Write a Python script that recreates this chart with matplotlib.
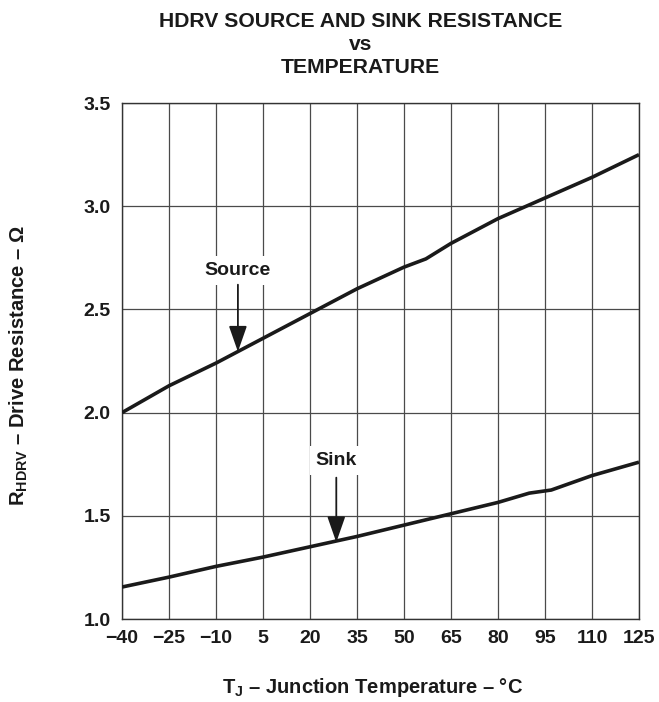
import matplotlib
matplotlib.use("Agg")
import matplotlib.pyplot as plt

plt.rcParams['font.family'] = ['Liberation Sans', 'DejaVu Sans']
plt.rcParams['font.weight'] = 'bold'
plt.rcParams['mathtext.fontset'] = 'custom'
plt.rcParams['mathtext.rm'] = 'Liberation Sans:bold'
plt.rcParams['mathtext.bf'] = 'Liberation Sans:bold'
plt.rcParams['mathtext.it'] = 'Liberation Sans:bold'

# Data
temp = [-40, -25, -10, 5, 20, 35, 50, 57, 65, 80, 95, 110, 125]
source = [2.00, 2.13, 2.24, 2.36, 2.48, 2.60, 2.705, 2.745, 2.82, 2.94, 3.04, 3.14, 3.25]
temp_sink = [-40, -25, -10, 5, 20, 35, 50, 65, 80, 90, 97, 110, 125]
sink = [1.155, 1.203, 1.255, 1.30, 1.35, 1.40, 1.455, 1.51, 1.565, 1.61, 1.625, 1.695, 1.76]

xticks = [-40, -25, -10, 5, 20, 35, 50, 65, 80, 95, 110, 125]
xticklabels = ['\u221240', '\u221225', '\u221210', '5', '20', '35', '50', '65', '80', '95', '110', '125']
yticks = [1.0, 1.5, 2.0, 2.5, 3.0, 3.5]
yticklabels = ['1.0', '1.5', '2.0', '2.5', '3.0', '3.5']

INK = '#1a1a1a'

fig = plt.figure(figsize=(6.59, 7.02), dpi=100)
ax = fig.add_axes([0.1851, 0.1182, 0.7845, 0.735])

ax.plot(temp, source, color=INK, lw=2.6, solid_capstyle='butt', zorder=3)
ax.plot(temp_sink, sink, color=INK, lw=2.6, solid_capstyle='butt', zorder=3)

ax.set_xlim(-40, 125)
ax.set_ylim(1.0, 3.5)
ax.set_xticks(xticks)
ax.set_xticklabels(xticklabels)
ax.set_yticks(yticks)
ax.set_yticklabels(yticklabels)
ax.tick_params(length=0, labelsize=14, pad=8)
for lab in ax.get_xticklabels() + ax.get_yticklabels():
    lab.set_fontweight('bold')
    lab.set_color(INK)
ax.grid(True, color='#4a4a4a', lw=0.9, zorder=1)
for s in ax.spines.values():
    s.set_color('#333333')
    s.set_linewidth(1.0)

bbox = dict(boxstyle='square,pad=0.3', fc='white', ec='none')
ax.text(-3, 2.69, 'Source', ha='center', va='center', fontsize=14,
        fontweight='bold', color=INK, bbox=bbox, zorder=4)
ax.annotate('', xy=(-3, 2.295), xytext=(-3, 2.62),
            arrowprops=dict(arrowstyle='-|>,head_length=0.8,head_width=0.28',
                            color=INK, lw=1.3, mutation_scale=20,
                            shrinkA=0, shrinkB=0), zorder=4)

ax.text(28.4, 1.767, 'Sink', ha='center', va='center', fontsize=14,
        fontweight='bold', color=INK, bbox=bbox, zorder=4)
ax.annotate('', xy=(28.4, 1.372), xytext=(28.4, 1.685),
            arrowprops=dict(arrowstyle='-|>,head_length=0.8,head_width=0.28',
                            color=INK, lw=1.3, mutation_scale=20,
                            shrinkA=0, shrinkB=0), zorder=4)

fig.text(0.547, 1 - 27.3 / 702, 'HDRV SOURCE AND SINK RESISTANCE', ha='center', va='baseline',
         fontsize=15.2, fontweight='bold', color=INK)
fig.text(0.547, 1 - 50.3 / 702, 'vs', ha='center', va='baseline',
         fontsize=15.2, fontweight='bold', color=INK)
fig.text(0.547, 1 - 73.3 / 702, 'TEMPERATURE', ha='center', va='baseline',
         fontsize=15.2, fontweight='bold', color=INK)

fig.text(0.565, 1 - 693 / 702, r'T$_\mathbf{J}$' + ' \u2013 Junction Temperature \u2013 \u00b0C',
         ha='center', va='baseline', fontsize=14.5, fontweight='bold', color=INK)
fig.text(0.028, 0.479, r'R$_\mathbf{HDRV}$' + ' \u2013 Drive Resistance \u2013 \u03a9',
         ha='center', va='center', rotation=90, fontsize=14.6, fontweight='bold', color=INK)

fig.savefig('out.png', dpi=100, facecolor='white')
